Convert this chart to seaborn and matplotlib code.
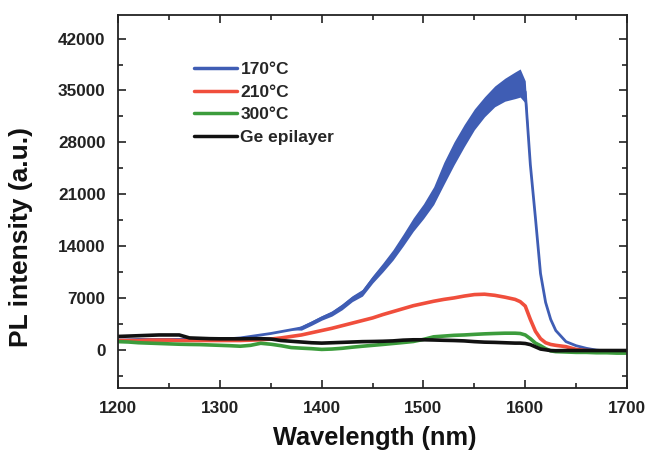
"""PL spectra of Ge samples annealed at different temperatures."""

import matplotlib

matplotlib.use("Agg")
import matplotlib.pyplot as plt
import pandas as pd
import seaborn as sns
from matplotlib.ticker import MultipleLocator

wavelength = [
    1200, 1210, 1220, 1230, 1240, 1250, 1260, 1270, 1280, 1290,
    1300, 1310, 1320, 1330, 1340, 1350, 1360, 1370, 1380, 1390,
    1400, 1410, 1420, 1430, 1440, 1450, 1460, 1470, 1480, 1490,
    1500, 1510, 1520, 1530, 1540, 1550, 1560, 1570, 1580, 1590,
    1595, 1600, 1605, 1610, 1615, 1620, 1625, 1630,
    1640, 1650, 1660, 1670, 1680, 1690, 1700,
]

pl_170 = [
    1300, 1350, 1400, 1400, 1400, 1400, 1400, 1400, 1450, 1450,
    1500, 1500, 1600, 1800, 2000, 2200, 2450, 2700, 2950, 3600,
    4300, 4900, 5800, 6900, 7700, 9500, 11100, 12800, 14800, 16900,
    18700, 20800, 23800, 26500, 28900, 31100, 32800, 34200, 35100, 35700,
    36000, 34800, 25000, 17800, 10300, 6400, 4100, 2600,
    1100, 550, 200, -50, -150, -150, -150,
]

# half width of the noisy band on the 170 C trace
pl_170_spread = [
    0, 0, 0, 0, 0, 0, 0, 0, 0, 0,
    0, 0, 0, 0, 0, 0, 0, 0, 300, 300,
    300, 350, 400, 400, 450, 500, 600, 700, 800, 900,
    1000, 1200, 1500, 1550, 1500, 1400, 1350, 1400, 1550, 1800,
    1900, 1500, 0, 0, 0, 0, 0, 0,
    0, 0, 0, 0, 0, 0, 0,
]

pl_210 = [
    1250, 1250, 1250, 1300, 1300, 1300, 1250, 1250, 1250, 1250,
    1250, 1250, 1250, 1300, 1350, 1450, 1600, 1800, 2000, 2300,
    2600, 2900, 3250, 3600, 3950, 4300, 4750, 5150, 5550, 5950,
    6250, 6550, 6800, 7000, 7250, 7450, 7500, 7350, 7100, 6800,
    6500, 5900, 4100, 2500, 1500, 950, 720, 600,
    420, 50, -100, -150, -150, -150, -150,
]

pl_300 = [
    1100, 1050, 950, 900, 850, 800, 750, 720, 700, 650,
    600, 550, 480, 600, 880, 750, 550, 300, 220, 150,
    50, 100, 200, 350, 480, 600, 720, 850, 980, 1120,
    1400, 1750, 1850, 1950, 2000, 2080, 2150, 2200, 2240, 2240,
    2200, 2000, 1500, 900, 550, 150, -150, -250,
    -300, -350, -350, -400, -400, -450, -450,
]

pl_ge = [
    1800, 1850, 1900, 1950, 2000, 2000, 2000, 1600, 1550, 1500,
    1480, 1480, 1480, 1500, 1500, 1450, 1250, 1150, 1050, 950,
    900, 950, 1000, 1050, 1100, 1120, 1150, 1200, 1300, 1350,
    1350, 1320, 1280, 1250, 1200, 1100, 1030, 1000, 950, 900,
    900, 850, 700, 400, 100, 0, -100, -130,
    -100, -100, -100, -100, -100, -100, -100,
]

labels = ["170°C", "210°C", "300°C", "Ge epilayer"]
colors = ["#3f5db4", "#f04e3c", "#3c9c3c", "#111111"]
widths = [2.0, 2.6, 2.6, 2.6]


def build_table():
    rows = []
    for w, c, s in zip(wavelength, pl_170, pl_170_spread):
        rows.append((w, c - s, labels[0]))
        rows.append((w, c + s, labels[0]))
    for series, name in zip([pl_210, pl_300, pl_ge], labels[1:]):
        for w, v in zip(wavelength, series):
            rows.append((w, v, name))
    return pd.DataFrame(rows, columns=["wavelength", "intensity", "sample"])


def main() -> None:
    df = build_table()

    sns.set_theme(style="ticks")
    plt.rcParams["font.family"] = ["Liberation Sans", "DejaVu Sans"]
    plt.rcParams["font.weight"] = "bold"

    fig, ax = plt.subplots(figsize=(6.46, 4.51), dpi=100)
    fig.subplots_adjust(left=0.183, right=0.9706, top=0.967, bottom=0.139)

    for name, color, lw in zip(labels, colors, widths):
        sns.lineplot(
            data=df[df["sample"] == name],
            x="wavelength",
            y="intensity",
            color=color,
            linewidth=lw,
            errorbar=("pi", 100),
            err_kws={"alpha": 1.0, "linewidth": 0},
            label=name,
            ax=ax,
        )

    ax.set_xlim(1200, 1700)
    ax.set_ylim(-5200, 45200)
    ax.xaxis.set_major_locator(MultipleLocator(100))
    ax.xaxis.set_minor_locator(MultipleLocator(50))
    ax.set_yticks(range(0, 42001, 7000))
    ax.yaxis.set_minor_locator(MultipleLocator(3500))

    ax.tick_params(which="both", direction="in", top=True, right=True,
                   width=1.2, colors="#222222", labelcolor="#222222")
    ax.tick_params(which="major", length=6, labelsize=12.3, pad=9)
    ax.tick_params(which="minor", length=3.5)
    for lab in ax.get_xticklabels() + ax.get_yticklabels():
        lab.set_fontweight("bold")
    for spine in ax.spines.values():
        spine.set_linewidth(1.3)
        spine.set_color("#222222")

    ax.set_xlabel("Wavelength (nm)", fontsize=18.3, fontweight="bold",
                  color="#111111", va="top")
    ax.set_ylabel("PL intensity (a.u.)", fontsize=19, fontweight="bold",
                  color="#111111")
    ax.xaxis.set_label_coords(0.505, -0.102)
    ax.yaxis.set_label_coords(-0.168, 0.404)

    leg = ax.legend(
        loc="upper left",
        bbox_to_anchor=(0.149, 0.873),
        frameon=False,
        handlelength=2.45,
        handletextpad=0.22,
        labelspacing=0.42,
        borderpad=0,
        borderaxespad=0,
        prop={"weight": "bold", "size": 12.5},
    )
    for line in leg.get_lines():
        line.set_linewidth(2.5)

    fig.savefig("out.png", dpi=100)
    plt.close(fig)


if __name__ == "__main__":
    main()
